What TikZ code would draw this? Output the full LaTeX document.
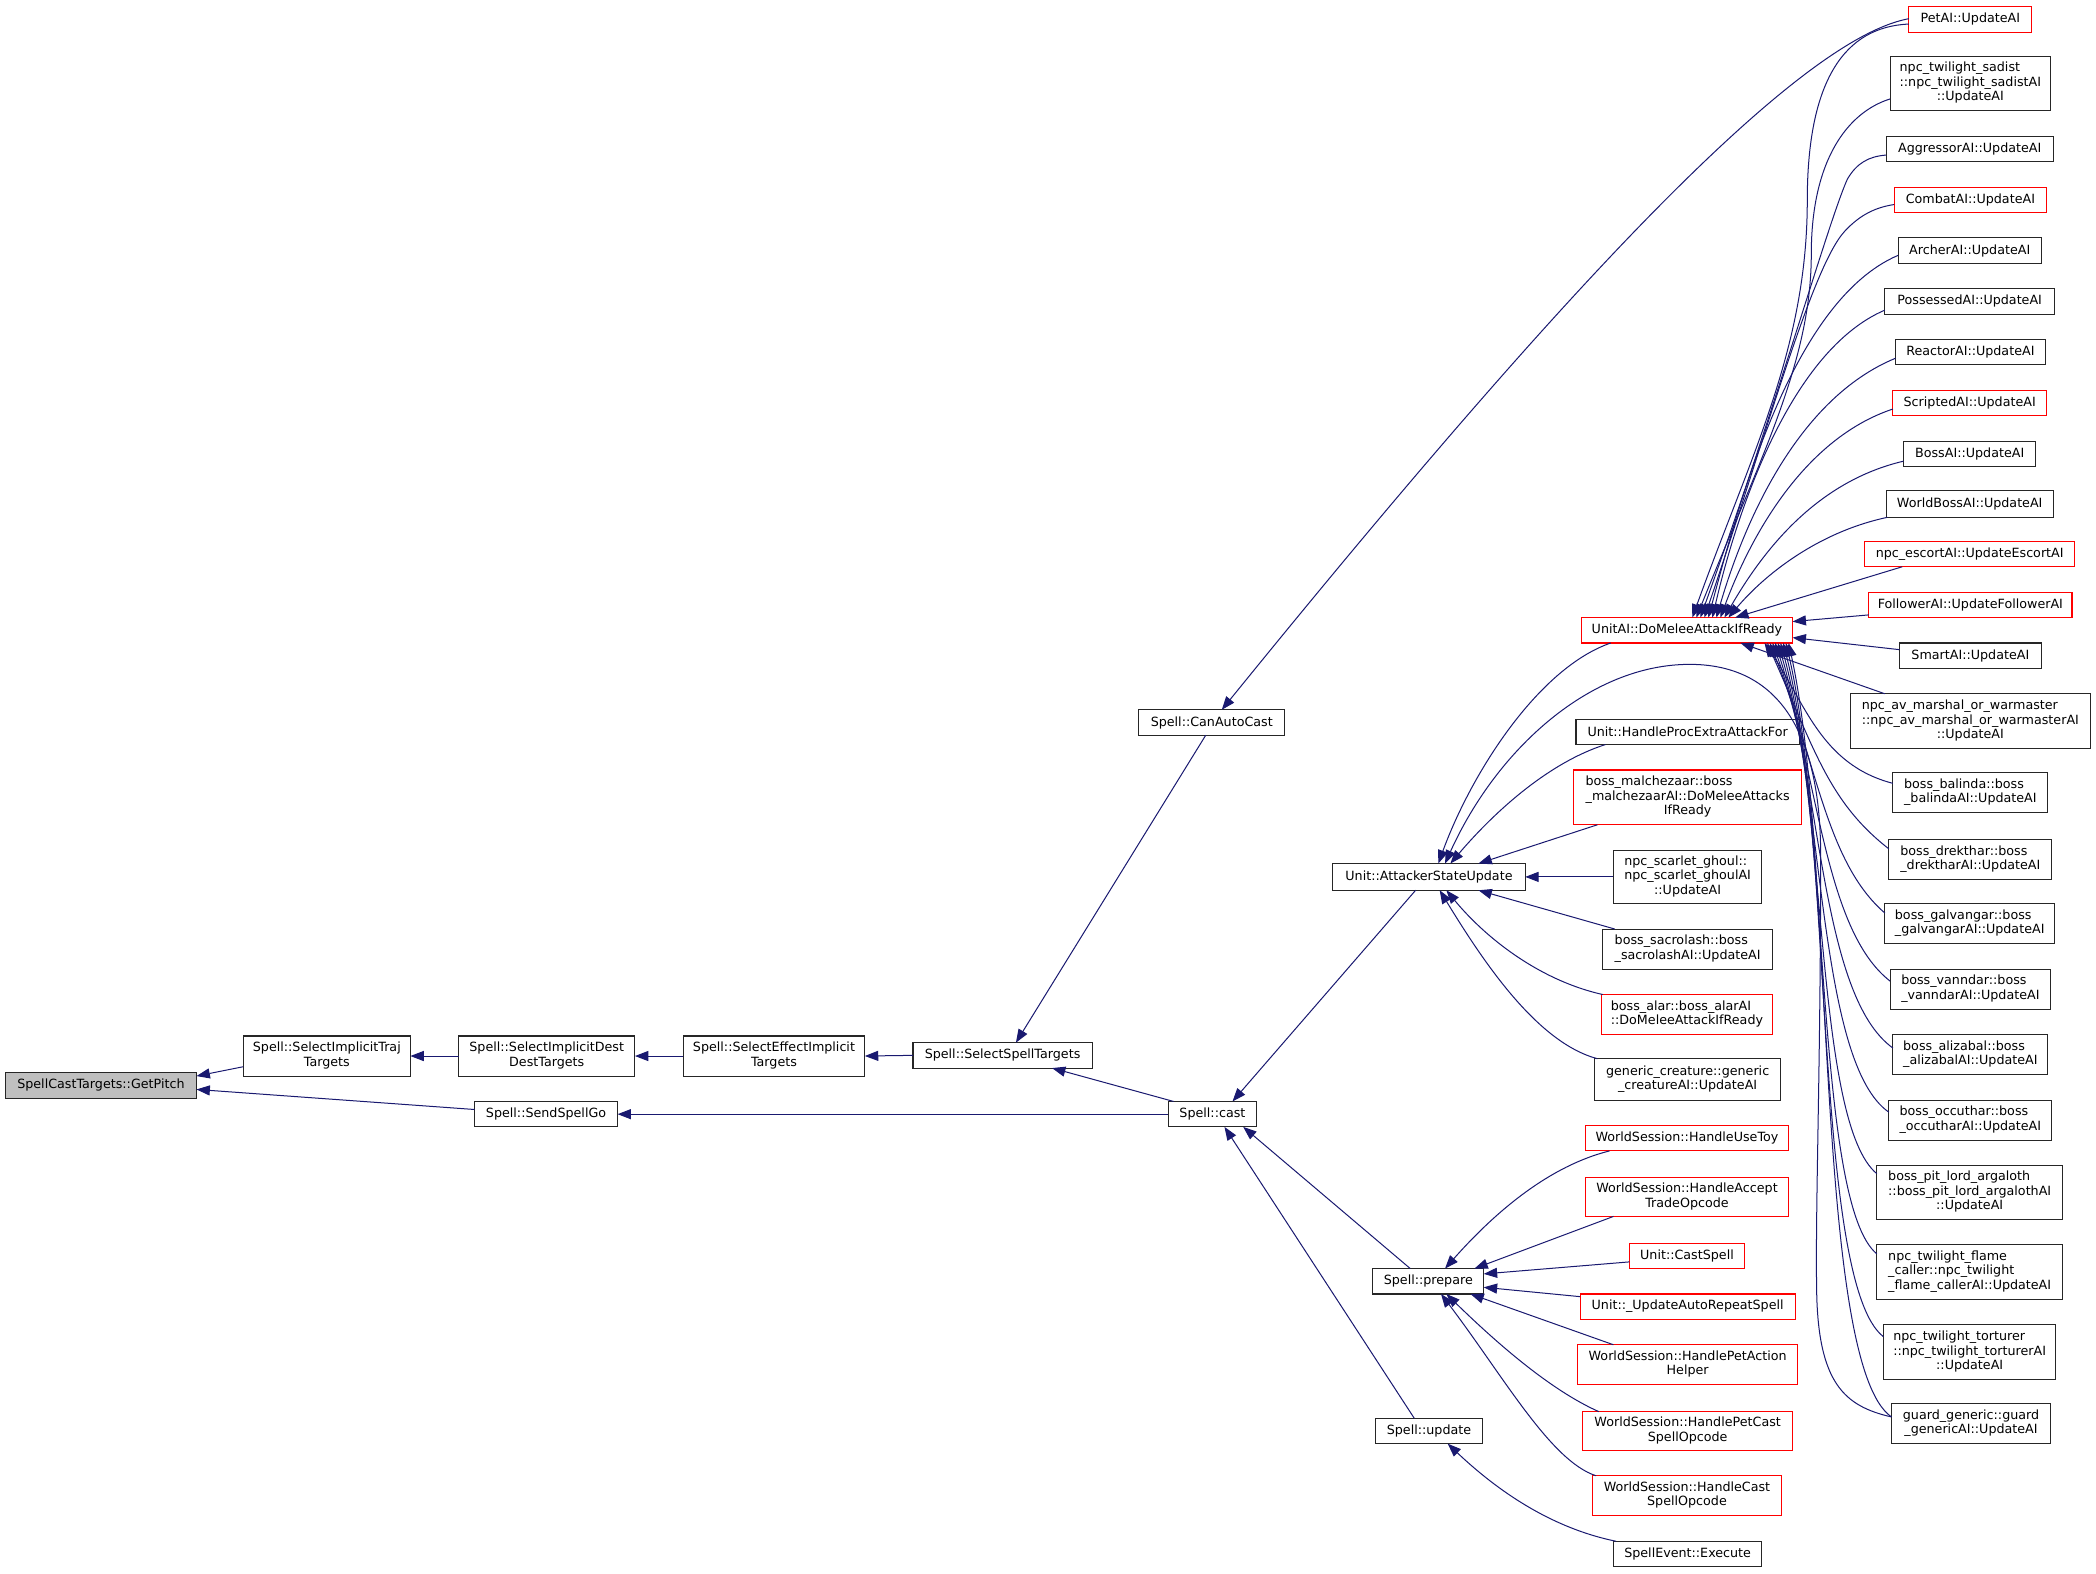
\documentclass[tikz,border=0pt]{standalone}
\usepackage{fontspec}
\setmainfont{DejaVu Sans}
\usetikzlibrary{arrows.meta,calc}
\definecolor{mblue}{HTML}{191970}
\definecolor{gpfill}{HTML}{BFBFBF}
\newcommand\twol[2]{\begin{tabular}{@{}l@{}}#1\\\multicolumn{1}{@{}c@{}}{#2}\end{tabular}}
\newcommand\threel[3]{\begin{tabular}{@{}l@{}}#1\\#2\\\multicolumn{1}{@{}c@{}}{#3}\end{tabular}}
\newcommand\bx[7]{\node[#1, minimum width={(#4-#3)*1pt}, minimum height={(#6-#5)*1pt}] (#2) at ({(#3+#4)/2},{(#5+#6)/2}) {#7};}
\tikzset{
  nb/.style={draw=black!85, line width=0.8pt, fill=white, inner sep=0pt, outer sep=0pt, font=\fontsize{9.5}{10.85}\selectfont},
  rb/.style={nb, draw=red},
  gb/.style={nb, fill=gpfill},
  cedge/.style={draw=mblue, line width=0.75pt, arrows={Triangle[length=10pt,width=7.5pt]-}}
}
\begin{document}
\begin{tikzpicture}[x=1pt,y=-1pt]
\path[use as bounding box, fill=white] (0,0) rectangle (1568,1177);
% left part
\bx{gb}{gp}{4}{147}{802}{822}{SpellCastTargets::GetPitch}
\bx{nb}{traj}{182}{307}{775}{805}{\twol{Spell::SelectImplicitTraj}{Targets}}
\bx{nb}{dest}{343}{475}{775}{805}{\twol{Spell::SelectImplicitDest}{DestTargets}}
\bx{nb}{ssg}{355}{462}{824}{843}{Spell::SendSpellGo}
\bx{nb}{eff}{511}{647}{775}{805}{\twol{Spell::SelectEffectImplicit}{Targets}}
\bx{nb}{sst}{683}{817}{780}{799}{Spell::SelectSpellTargets}
\bx{nb}{cast}{874}{940}{824}{843}{Spell::cast}
\bx{nb}{cac}{852}{961}{531}{550}{Spell::CanAutoCast}
\bx{nb}{asu}{997}{1141}{646}{666}{Unit::AttackerStateUpdate}
\bx{nb}{prep}{1027}{1110}{949}{968}{Spell::prepare}
\bx{nb}{upd}{1029}{1109}{1061}{1080}{Spell::update}
% third column
\bx{rb}{dm}{1183}{1341}{462}{481}{UnitAI::DoMeleeAttackIfReady}
\bx{nb}{hpe}{1179}{1346}{538}{557}{Unit::HandleProcExtraAttackFor}
\bx{rb}{mal}{1177}{1348}{576}{617}{\threel{boss\_malchezaar::boss}{\_malchezaarAI::DoMeleeAttacks}{IfReady}}
\bx{nb}{sg}{1207}{1318}{636}{676}{\threel{npc\_scarlet\_ghoul::}{npc\_scarlet\_ghoulAI}{::UpdateAI}}
\bx{nb}{sac}{1199}{1326}{695}{725}{\twol{boss\_sacrolash::boss}{\_sacrolashAI::UpdateAI}}
\bx{rb}{alar}{1198}{1326}{744}{774}{\twol{boss\_alar::boss\_alarAI}{::DoMeleeAttackIfReady}}
\bx{nb}{gc}{1193}{1332}{792}{823}{\twol{generic\_creature::generic}{\_creatureAI::UpdateAI}}
\bx{rb}{toy}{1186}{1338}{842}{861}{WorldSession::HandleUseToy}
\bx{rb}{trade}{1186}{1338}{881}{910}{\twol{WorldSession::HandleAccept}{TradeOpcode}}
\bx{rb}{cs}{1219}{1305}{930}{949}{Unit::CastSpell}
\bx{rb}{uars}{1182}{1343}{968}{987}{Unit::\_UpdateAutoRepeatSpell}
\bx{rb}{hpa}{1180}{1345}{1006}{1036}{\twol{WorldSession::HandlePetAction}{Helper}}
\bx{rb}{hpc}{1184}{1341}{1056}{1085}{\twol{WorldSession::HandlePetCast}{SpellOpcode}}
\bx{rb}{hcs}{1191}{1333}{1104}{1134}{\twol{WorldSession::HandleCast}{SpellOpcode}}
\bx{nb}{exe}{1207}{1318}{1153}{1172}{SpellEvent::Execute}
% right column
\bx{rb}{pet}{1428}{1520}{5}{24}{PetAI::UpdateAI}
\bx{nb}{sad}{1414}{1534}{42}{83}{\threel{npc\_twilight\_sadist}{::npc\_twilight\_sadistAI}{::UpdateAI}}
\bx{nb}{agg}{1411}{1536}{102}{121}{AggressorAI::UpdateAI}
\bx{rb}{com}{1417}{1531}{140}{159}{CombatAI::UpdateAI}
\bx{nb}{arc}{1420}{1527}{178}{197}{ArcherAI::UpdateAI}
\bx{nb}{pos}{1410}{1537}{216}{235}{PossessedAI::UpdateAI}
\bx{nb}{rea}{1418}{1530}{254}{273}{ReactorAI::UpdateAI}
\bx{rb}{scr}{1416}{1531}{292}{311}{ScriptedAI::UpdateAI}
\bx{nb}{boss}{1424}{1523}{330}{349}{BossAI::UpdateAI}
\bx{nb}{wb}{1411}{1536}{367}{387}{WorldBossAI::UpdateAI}
\bx{rb}{esc}{1395}{1552}{405}{424}{npc\_escortAI::UpdateEscortAI}
\bx{rb}{fol}{1398}{1550}{443}{462}{FollowerAI::UpdateFollowerAI}
\bx{nb}{smart}{1421}{1527}{481}{500}{SmartAI::UpdateAI}
\bx{nb}{av}{1384}{1564}{519}{560}{\threel{npc\_av\_marshal\_or\_warmaster}{::npc\_av\_marshal\_or\_warmasterAI}{::UpdateAI}}
\bx{nb}{bal}{1416}{1532}{578}{608}{\twol{boss\_balinda::boss}{\_balindaAI::UpdateAI}}
\bx{nb}{dre}{1413}{1535}{628}{658}{\twol{boss\_drekthar::boss}{\_drektharAI::UpdateAI}}
\bx{nb}{gal}{1410}{1537}{676}{706}{\twol{boss\_galvangar::boss}{\_galvangarAI::UpdateAI}}
\bx{nb}{van}{1414}{1534}{725}{755}{\twol{boss\_vanndar::boss}{\_vanndarAI::UpdateAI}}
\bx{nb}{ali}{1416}{1532}{774}{804}{\twol{boss\_alizabal::boss}{\_alizabalAI::UpdateAI}}
\bx{nb}{occ}{1413}{1535}{823}{853}{\twol{boss\_occuthar::boss}{\_occutharAI::UpdateAI}}
\bx{nb}{pit}{1404}{1543}{872}{912}{\threel{boss\_pit\_lord\_argaloth}{::boss\_pit\_lord\_argalothAI}{::UpdateAI}}
\bx{nb}{fla}{1404}{1543}{931}{972}{\threel{npc\_twilight\_flame}{\_caller::npc\_twilight}{\_flame\_callerAI::UpdateAI}}
\bx{nb}{tor}{1409}{1538}{991}{1032}{\threel{npc\_twilight\_torturer}{::npc\_twilight\_torturerAI}{::UpdateAI}}
\bx{nb}{gua}{1415}{1534}{1050}{1080}{\twol{guard\_generic::guard}{\_genericAI::UpdateAI}}
% edges: left part
\draw[cedge] ($(gp.north west)+(143,3)$) -- ($(traj.north west)+(0,23)$);
\draw[cedge] ($(gp.north west)+(143,13)$) -- ($(ssg.north west)+(0,6)$);
\draw[cedge] (traj.east) -- (dest.west);
\draw[cedge] (dest.east) -- (eff.west);
\draw[cedge] (eff.east) -- (sst.west);
\draw[cedge] ($(sst.north west)+(77,0)$) -- ($(cac.north west)+(50,19)$);
\draw[cedge] ($(sst.north west)+(104,19)$) -- ($(cast.north west)+(4,0)$);
\draw[cedge] (ssg.east) -- (cast.west);
\draw[cedge] ($(cac.north west)+(62,0)$) .. controls (1150,240) and (1340,30) .. ($(pet.north west)+(0,9)$);
\draw[cedge] ($(cast.north west)+(48,0)$) -- ($(asu.north west)+(62,20)$);
\draw[cedge] ($(cast.north west)+(56,19)$) -- ($(prep.north west)+(28,0)$);
\draw[cedge] ($(cast.north west)+(42,19)$) -- ($(upd.north west)+(29,0)$);
\draw[cedge] ($(upd.north west)+(54,19)$) .. controls (1120,1115) and (1160,1143) .. ($(exe.north west)+(2,0)$);
% prepare
\draw[cedge] ($(prep.north west)+(54,0)$) .. controls (1120,905) and (1160,872) .. ($(toy.north west)+(18,19)$);
\draw[cedge] ($(prep.north west)+(76,0)$) -- ($(trade.north west)+(21,29)$);
\draw[cedge] ($(prep.north west)+(83,4)$) -- ($(cs.north west)+(0,14)$);
\draw[cedge] ($(prep.north west)+(83,14)$) -- ($(uars.north west)+(0,2)$);
\draw[cedge] ($(prep.north west)+(73,19)$) -- ($(hpa.north west)+(27,0)$);
\draw[cedge] ($(prep.north west)+(55,19)$) .. controls (1120,1005) and (1160,1040) .. ($(hpc.north west)+(12,0)$);
\draw[cedge] ($(prep.north west)+(51,19)$) .. controls (1125,1030) and (1160,1093) .. ($(hcs.north west)+(3,0)$);
% attacker state update
\draw[cedge] ($(asu.north west)+(79,0)$) .. controls (1100,580) and (1150,500) .. ($(dm.north west)+(22,19)$);
\draw[cedge] ($(asu.north west)+(84,0)$) .. controls (1120,560) and (1190,497) .. (1264,497) .. controls (1325,497) and (1362,540) .. (1362,640) .. controls (1362,800) and (1358,900) .. (1359,965) .. controls (1360,1035) and (1380,1052) .. ($(gua.north west)+(0,10)$);
\draw[cedge] ($(asu.north west)+(88,0)$) .. controls (1120,605) and (1160,570) .. ($(hpe.north west)+(22,19)$);
\draw[cedge] ($(asu.north west)+(109,0)$) -- ($(mal.north west)+(18,41)$);
\draw[cedge] (asu.east) -- (sg.west);
\draw[cedge] ($(asu.north west)+(109,20)$) -- ($(sac.north west)+(9,0)$);
\draw[cedge] ($(asu.north west)+(85,20)$) .. controls (1110,700) and (1150,733) .. ($(alar.north west)+(1,0)$);
\draw[cedge] ($(asu.north west)+(80,20)$) .. controls (1110,720) and (1150,780) .. ($(gc.north west)+(2,0)$);
% DoMeleeAttackIfReady
\draw[cedge] ($(dm.north west)+(83,0)$) .. controls (1310,340) and (1352,260) .. (1352,150) .. controls (1352,60) and (1380,20) .. ($(pet.north west)+(0,13)$);
\draw[cedge] ($(dm.north west)+(86,0)$) .. controls (1318,340) and (1355,270) .. (1355,190) .. controls (1355,120) and (1382,84) .. ($(sad.north west)+(0,32)$);
\draw[cedge] ($(dm.north west)+(89,0)$) .. controls (1330,300) and (1368,165) .. (1382,134) .. controls (1389,122) and (1398,117) .. ($(agg.north west)+(0,14)$);
\draw[cedge] ($(dm.north west)+(92,0)$) .. controls (1320,330) and (1355,200) .. (1380,173) .. controls (1392,160) and (1404,155) .. ($(com.north west)+(0,13)$);
\draw[cedge] ($(dm.north west)+(95,0)$) .. controls (1300,380) and (1340,225) .. ($(arc.north west)+(0,13)$);
\draw[cedge] ($(dm.north west)+(98,0)$) .. controls (1300,380) and (1340,262) .. ($(pos.north west)+(0,16)$);
\draw[cedge] ($(dm.north west)+(101,0)$) .. controls (1305,390) and (1345,298) .. ($(rea.north west)+(0,14)$);
\draw[cedge] ($(dm.north west)+(104,0)$) .. controls (1310,400) and (1350,328) .. ($(scr.north west)+(0,14)$);
\draw[cedge] ($(dm.north west)+(107,0)$) .. controls (1320,410) and (1360,360) .. ($(boss.north west)+(0,15)$);
\draw[cedge] ($(dm.north west)+(110,0)$) .. controls (1320,430) and (1360,398) .. ($(wb.north west)+(1,20)$);
\draw[cedge] ($(dm.north west)+(115,0)$) -- ($(esc.north west)+(28,19)$);
\draw[cedge] ($(dm.north west)+(158,3)$) -- ($(fol.north west)+(0,17)$);
\draw[cedge] ($(dm.north west)+(158,15)$) -- ($(smart.north west)+(0,5)$);
\draw[cedge] ($(dm.north west)+(119,19)$) -- ($(av.north west)+(26,0)$);
\draw[cedge] ($(dm.north west)+(137,19)$) .. controls (1350,525) and (1362,572) .. ($(bal.north west)+(0,8)$);
\draw[cedge] ($(dm.north west)+(139,19)$) .. controls (1357,560) and (1368,600) .. ($(dre.north west)+(0,7)$);
\draw[cedge] ($(dm.north west)+(141,19)$) .. controls (1359,570) and (1366,645) .. ($(gal.north west)+(0,7)$);
\draw[cedge] ($(dm.north west)+(143,19)$) .. controls (1361,580) and (1364,695) .. ($(van.north west)+(0,9)$);
\draw[cedge] ($(dm.north west)+(145,19)$) .. controls (1363,590) and (1362,745) .. ($(ali.north west)+(0,10)$);
\draw[cedge] ($(dm.north west)+(147,19)$) .. controls (1365,600) and (1360,795) .. ($(occ.north west)+(0,9)$);
\draw[cedge] ($(dm.north west)+(149,19)$) .. controls (1367,610) and (1358,840) .. ($(pit.north west)+(0,6)$);
\draw[cedge] ($(dm.north west)+(151,19)$) .. controls (1369,620) and (1358,900) .. ($(fla.north west)+(0,7)$);
\draw[cedge] ($(dm.north west)+(153,19)$) .. controls (1371,630) and (1357,960) .. ($(tor.north west)+(0,9)$);
\draw[cedge] ($(dm.north west)+(155,19)$) .. controls (1373,640) and (1357,1020) .. ($(gua.north west)+(0,10)$);
\end{tikzpicture}
\end{document}
